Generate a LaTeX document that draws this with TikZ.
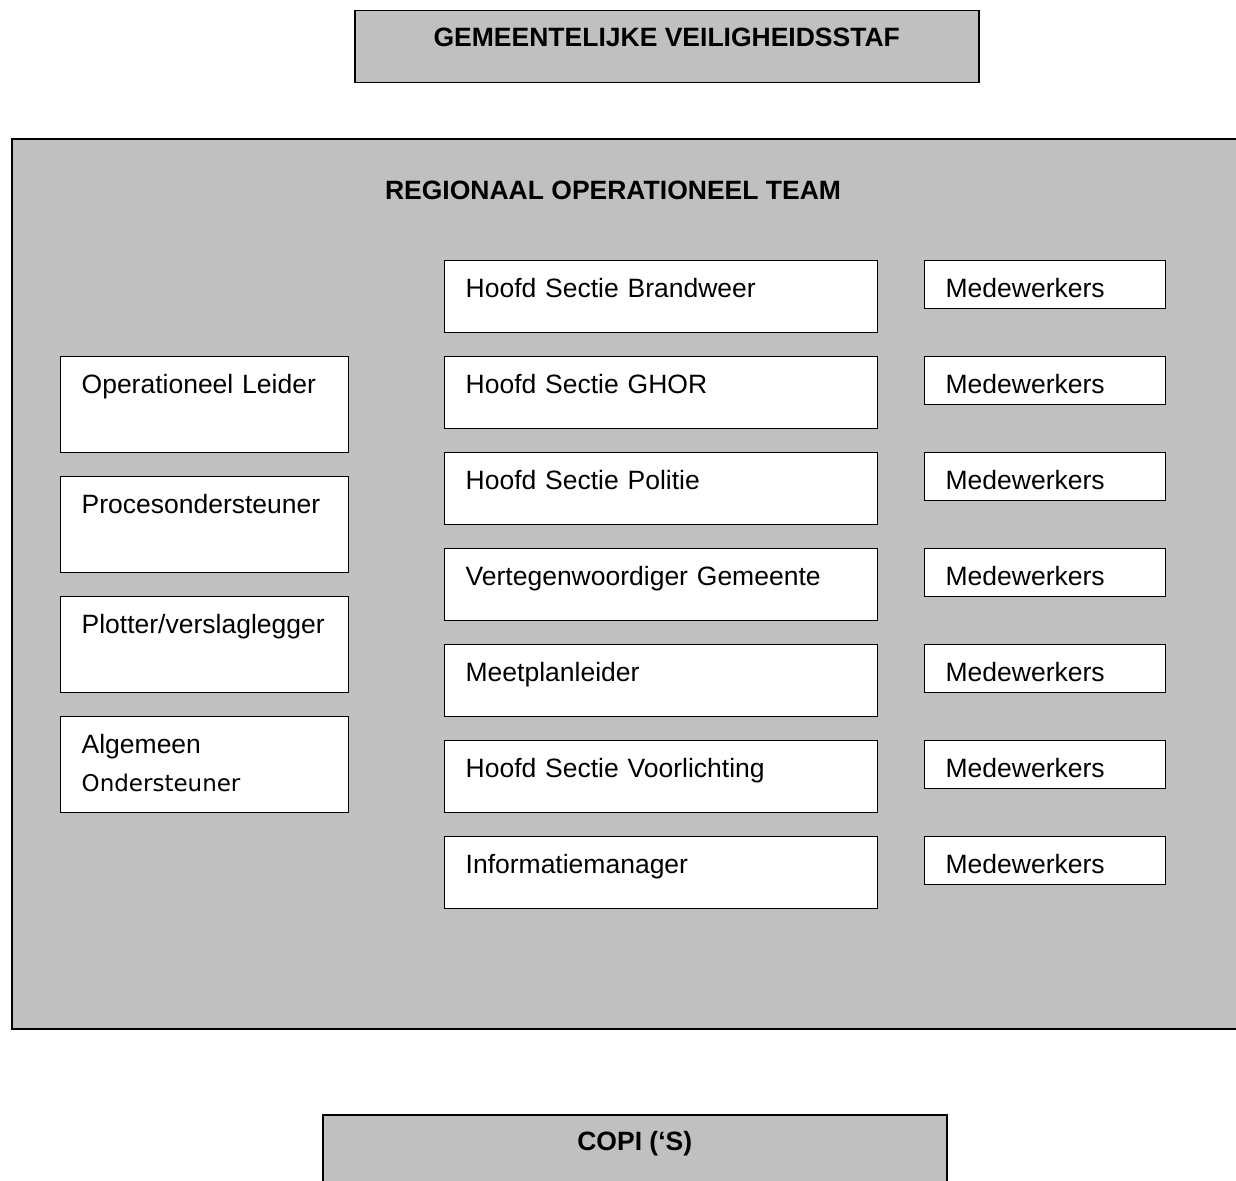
\documentclass[tikz,border=0pt]{standalone}
\usepackage{fontspec}
\setmainfont{Liberation Sans}
\newfontfamily\ondfont{DejaVu Sans}
\definecolor{grijs}{RGB}{192,192,192}
\hyphenpenalty=10000
\exhyphenpenalty=10000

\tikzset{
    kop/.style={draw=black, line width=1.5pt, fill=grijs, anchor=north west,
        font=\fontsize{26.5}{32}\selectfont\bfseries, inner sep=0pt,
        minimum width=624pt, text height=35.5pt, text depth=36.5pt},
    functie/.style={draw=black, line width=1.3pt, fill=white, anchor=north west,
        font=\fontsize{26.5}{38}\selectfont, align=left,
        inner xsep=21pt, inner ysep=0pt, text height=36.5pt},
    sectie/.style={functie, text width=391pt, text depth=35.5pt},
    leiding/.style={functie, text width=246pt, text depth=59.5pt},
    medewerker/.style={functie, text width=199pt, text depth=11.5pt}
}

\begin{document}
\begin{tikzpicture}[x=1pt, y=-1pt]
    \useasboundingbox (0,0) rectangle (1236,1180);
    \clip (0,0) rectangle (1236,1180);

    \node[kop] (gvs) at (354,10) {GEMEENTELIJKE VEILIGHEIDSSTAF};

    \node[draw=black, line width=2pt, fill=grijs, anchor=north west, inner sep=0pt,
        minimum width=1240pt, minimum height=890pt] (rot) at (11,138) {};
    \node[font=\fontsize{26.5}{32}\selectfont\bfseries, inner sep=0pt] (rottitel) at (613,190) {REGIONAAL OPERATIONEEL TEAM};

    % linker kolom
    \node[leiding] (ol) at (60,356) {Operationeel Leider};
    \node[leiding] (pro) at (60,476) {Procesondersteuner};
    \node[leiding] (plot) at (60,596) {Plotter/verslaglegger};
    \node[leiding] (alg) at (60,716) {Algemeen\\{\ondfont\fontsize{23}{38}\selectfont Ondersteuner}};

    % secties en medewerkers
    \foreach \naam/\tekst [count=\i from 0] in {
        brw/Hoofd Sectie Brandweer,
        ghor/Hoofd Sectie GHOR,
        pol/Hoofd Sectie Politie,
        gem/Vertegenwoordiger Gemeente,
        meet/Meetplanleider,
        vl/Hoofd Sectie Voorlichting,
        im/Informatiemanager}
    {
        \node[sectie] (\naam) at (444,260+96*\i) {\tekst};
        \node[medewerker] (\naam-mw) at (924,260+96*\i) {Medewerkers};
    }

    \node[kop] (copi) at (322,1114) {COPI (`S)};
\end{tikzpicture}
\end{document}
